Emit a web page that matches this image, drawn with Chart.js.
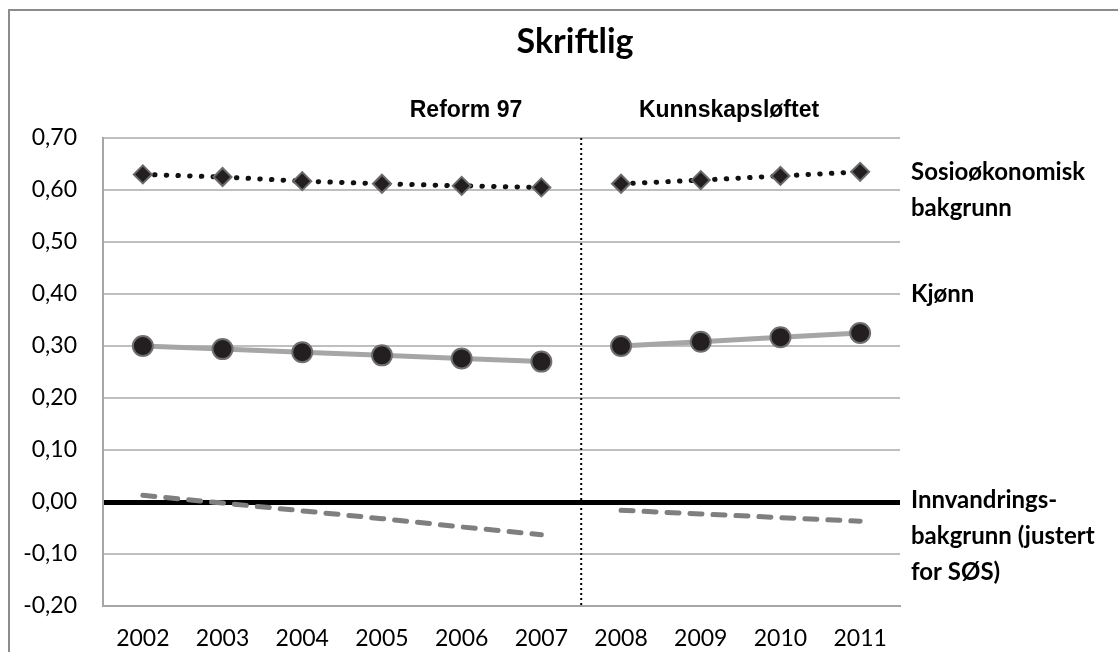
<!doctype html>
<html>
<head>
<meta charset="utf-8">
<title>Skriftlig</title>
<script src="https://cdn.jsdelivr.net/npm/chart.js@4.4.1/dist/chart.umd.min.js"></script>
<style>
  body { margin: 0; background: #fff; }
  #wrap { width: 1118px; height: 652px; }
</style>
</head>
<body>
<div id="wrap"><canvas id="chart" width="1118" height="652"></canvas></div>
<script>
// years on the category axis
var years = ['2002', '2003', '2004', '2005', '2006', '2007', '2008', '2009', '2010', '2011'];

// effect sizes per year (Reform 97: 2002-2007, Kunnskapsløftet: 2008-2011)
var sosio = [0.630, 0.625, 0.617, 0.612, 0.608, 0.605, 0.612, 0.619, 0.627, 0.635];
var kjonn = [0.300, 0.294, 0.288, 0.282, 0.276, 0.270, 0.300, 0.308, 0.317, 0.325];
var innvandring = [0.013, -0.002, -0.017, -0.032, -0.048, -0.063, -0.016, -0.023, -0.030, -0.037];

var yTicks = { min: -0.2, max: 0.7, step: 0.1 };

var periods = ['Reform 97', 'Kunnskapsløftet'];
var seriesLabels = [
  ['Sosioøkonomisk', 'bakgrunn'],
  ['Kjønn'],
  ['Innvandrings-', 'bakgrunn (justert', 'for SØS)']
];

var BREAK_AT = 5; // last index of the first period

// no line across the reform change
var gapSegment = {
  borderColor: function (ctx) {
    return ctx.p0DataIndex === BREAK_AT ? 'rgba(0,0,0,0)' : undefined;
  }
};

var FONT = 'Lato, "Open Sans", sans-serif';

var decorations = {
  id: 'decorations',
  beforeDraw: function (chart) {
    var c = chart.ctx;
    c.save();
    c.strokeStyle = '#8c8c8c';
    c.lineWidth = 2;
    c.beginPath();
    c.moveTo(9, 652);
    c.lineTo(9, 10);
    c.lineTo(1118, 10);
    c.stroke();
    c.restore();
  },
  afterDatasetsDraw: function (chart) {
    var c = chart.ctx;
    var x = chart.scales.x;
    var area = chart.chartArea;
    var xs = (x.getPixelForValue(BREAK_AT) + x.getPixelForValue(BREAK_AT + 1)) / 2;

    c.save();
    // divider between the two reforms
    c.strokeStyle = '#000';
    c.lineWidth = 2;
    c.setLineDash([2, 3]);
    c.beginPath();
    c.moveTo(xs, area.top);
    c.lineTo(xs, area.bottom);
    c.stroke();
    c.setLineDash([]);

    c.fillStyle = '#000';
    c.textAlign = 'center';
    c.textBaseline = 'middle';
    c.font = 'bold 34px ' + FONT;
    c.fillText('Skriftlig', 575, 42);

    c.font = 'bold 23px "Liberation Sans", Arial, sans-serif';
    c.fillText(periods[0], 466, 111);
    c.fillText(periods[1], 729, 111);

    // series names at the right
    c.textAlign = 'left';
    c.font = 'bold 24px ' + FONT;
    var starts = [172, 294, 500];
    seriesLabels.forEach(function (lines, i) {
      lines.forEach(function (t, j) {
        c.fillText(t, 911, starts[i] + j * 36);
      });
    });
    c.restore();
  }
};

new Chart(document.getElementById('chart'), {
  type: 'line',
  data: {
    labels: years,
    datasets: [
      {
        label: 'Innvandringsbakgrunn',
        data: innvandring,
        borderColor: '#7f7f7f',
        borderWidth: 5,
        borderDash: [12, 11],
        borderCapStyle: 'round',
        pointRadius: 0,
        segment: gapSegment
      },
      {
        label: 'Kjønn',
        data: kjonn,
        borderColor: '#a6a6a6',
        borderWidth: 5,
        pointStyle: 'circle',
        pointRadius: 10,
        pointBackgroundColor: '#231f20',
        pointBorderColor: '#6f6f6f',
        pointBorderWidth: 2,
        segment: gapSegment
      },
      {
        label: 'Sosioøkonomisk bakgrunn',
        data: sosio,
        borderColor: '#111',
        borderWidth: 5,
        borderDash: [0.5, 11.2],
        borderCapStyle: 'round',
        pointStyle: 'rectRot',
        pointRadius: 9,
        pointBackgroundColor: '#231f20',
        pointBorderColor: '#6a6a6a',
        pointBorderWidth: 2,
        segment: gapSegment
      }
    ]
  },
  options: {
    responsive: false,
    animation: false,
    layout: { padding: { left: 0, top: 138, right: 218, bottom: 0 } },
    plugins: {
      legend: { display: false },
      tooltip: { enabled: false }
    },
    scales: {
      x: {
        offset: true,
        grid: { display: false, offset: true },
        border: { color: '#a6a6a6', width: 2 },
        ticks: { color: '#000', font: { family: FONT, size: 23 }, padding: 11, maxRotation: 0 },
        afterFit: function (s) { s.height = 46; }
      },
      y: {
        min: yTicks.min,
        max: yTicks.max,
        border: { color: '#a6a6a6', width: 2 },
        grid: {
          drawTicks: false,
          color: function (ctx) { return Math.abs(ctx.tick.value) < 1e-9 ? '#000' : '#bfbfbf'; },
          lineWidth: function (ctx) { return Math.abs(ctx.tick.value) < 1e-9 ? 5 : 2; }
        },
        ticks: {
          stepSize: yTicks.step,
          color: '#000',
          padding: 26,
          font: { family: FONT, size: 23 },
          callback: function (v) { return (Math.round(v * 100) / 100).toFixed(2).replace('.', ','); }
        },
        afterFit: function (s) { s.width = 103; }
      }
    }
  },
  plugins: [decorations]
});
</script>
</body>
</html>
